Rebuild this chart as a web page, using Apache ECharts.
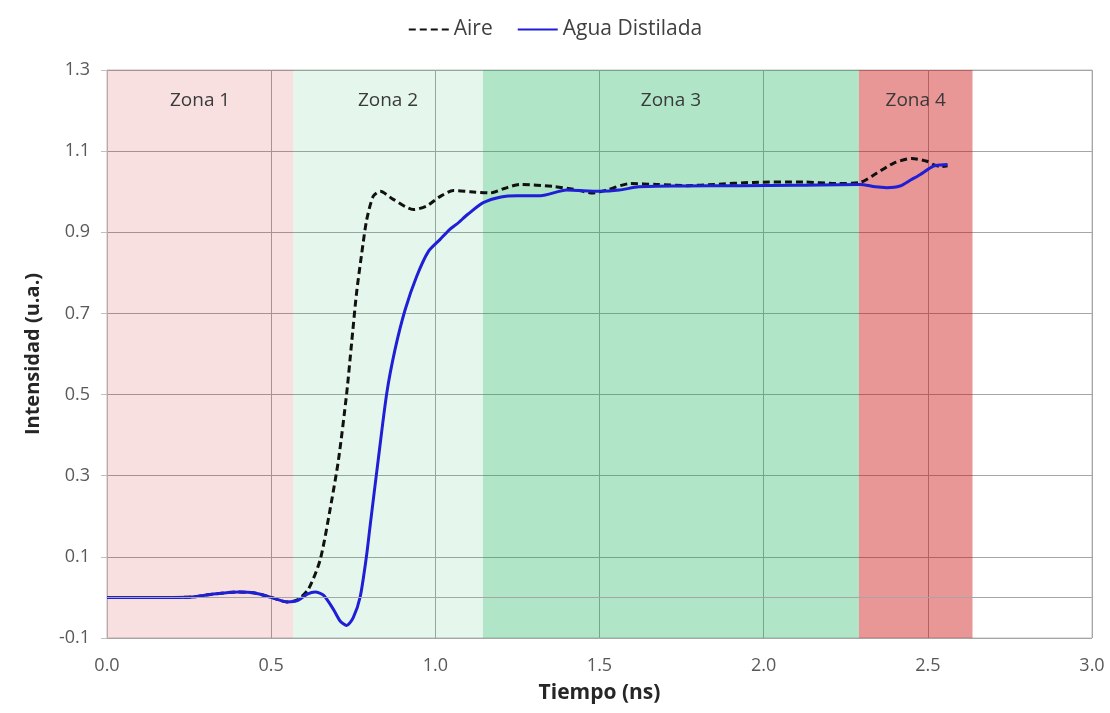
<!DOCTYPE html>
<html>
<head>
<meta charset="utf-8">
<script src="https://cdn.jsdelivr.net/npm/echarts@6/dist/echarts.min.js"></script>
<style>
html,body{margin:0;padding:0;background:#fff;}
#chart{width:1110px;height:713px;}
</style>
</head>
<body>
<div id="chart"></div>
<script>
// ---- data ----
const timeAire = [0.00,0.10,0.20,0.26,0.32,0.40,0.45,0.50,0.548,0.58,0.613,0.649,0.679,0.705,0.730,0.745,0.760,0.776,0.791,0.811,0.832,0.872,0.933,0.974,1.014,1.055,1.106,1.167,1.21,1.258,1.359,1.42,1.481,1.522,1.593,1.674,1.766,1.85,1.969,2.121,2.223,2.294,2.345,2.395,2.451,2.497,2.517,2.54,2.56];
const intAire  = [0.000,0.000,0.000,0.001,0.008,0.0135,0.011,0.000,-0.011,-0.006,0.020,0.092,0.215,0.339,0.503,0.627,0.750,0.849,0.931,0.989,1.001,0.981,0.956,0.965,0.988,1.003,1.000,0.997,1.008,1.018,1.013,1.006,0.997,1.004,1.020,1.018,1.015,1.018,1.023,1.024,1.020,1.023,1.046,1.070,1.082,1.075,1.067,1.062,1.064];
const timeAgua = [0.00,0.10,0.20,0.26,0.32,0.40,0.45,0.50,0.548,0.58,0.61,0.634,0.66,0.69,0.71,0.730,0.75,0.771,0.79,0.801,0.826,0.852,0.877,0.908,0.943,0.979,1.014,1.045,1.065,1.10,1.146,1.20,1.25,1.32,1.40,1.50,1.56,1.62,1.75,1.93,2.10,2.294,2.34,2.375,2.415,2.45,2.476,2.517,2.54,2.56];
const intAgua  = [0.000,0.000,0.000,0.001,0.008,0.0135,0.011,0.000,-0.011,-0.008,0.008,0.0135,0.005,-0.030,-0.058,-0.069,-0.050,0.001,0.100,0.174,0.339,0.503,0.610,0.709,0.791,0.853,0.882,0.908,0.920,0.945,0.973,0.987,0.990,0.990,1.004,1.001,1.004,1.012,1.014,1.015,1.016,1.018,1.012,1.010,1.014,1.030,1.042,1.063,1.066,1.067];
const seriesNames = ['Aire','Agua Distilada'];
const zoneNames = ['Zona 1','Zona 2','Zona 3','Zona 4'];
const zoneStart = [0.0, 0.567, 1.145, 2.29];
const zoneEnd   = [0.567, 1.145, 2.29, 2.636];
const xTicks = {min:0, max:3, interval:0.5};
const yTicks = {min:-0.1, max:1.3, interval:0.2};

const zoneColors = ['rgba(200,0,0,0.12)','rgba(0,176,80,0.10)','rgba(0,171,77,0.31)','rgba(200,0,0,0.41)'];
const FONT = 'Open Sans';
const gridColor = '#a6a6a6';

const pairs = (xs, ys) => xs.map((x,i)=>[x, ys[i]]);

const chart = echarts.init(document.getElementById('chart'), null, {renderer:'canvas'});
chart.setOption({
  animation:false,
  backgroundColor:'#ffffff',
  textStyle:{fontFamily:FONT},
  legend:{
    top:14, left:'center',
    itemWidth:40, itemHeight:14, itemGap:24,
    itemStyle:{opacity:0},
    textStyle:{fontFamily:FONT, fontSize:21, color:'#404040', padding:[0,0,0,0]},
    data:seriesNames
  },
  grid:{left:107, right:18, top:70, bottom:75, show:true, borderColor:'#bfbfbf', borderWidth:1},
  xAxis:{
    type:'value', min:xTicks.min, max:xTicks.max, interval:xTicks.interval,
    name:'Tiempo (ns)', nameLocation:'middle', nameGap:45,
    nameTextStyle:{fontFamily:FONT, fontSize:21, fontWeight:'bold', color:'#262626'},
    axisLine:{show:true, lineStyle:{color:'#bfbfbf'}},
    axisTick:{show:false},
    axisLabel:{fontFamily:FONT, fontSize:18, color:'#595959', margin:19, formatter:v=>v.toFixed(1)},
    splitLine:{show:true, lineStyle:{color:gridColor, width:1}}
  },
  yAxis:{
    type:'value', min:yTicks.min, max:yTicks.max, interval:yTicks.interval,
    name:'Intensidad (u.a.)', nameLocation:'middle', nameGap:64, nameRotate:90,
    nameTextStyle:{fontFamily:FONT, fontSize:20, fontWeight:'bold', color:'#262626'},
    axisLine:{show:true, lineStyle:{color:'#bfbfbf'}},
    axisTick:{show:true, length:6, lineStyle:{color:'#bfbfbf'}},
    axisLabel:{fontFamily:FONT, fontSize:18, color:'#595959', margin:17, formatter:v=>v.toFixed(1)},
    splitLine:{show:true, lineStyle:{color:gridColor, width:1}}
  },
  series:[
    {
      name:seriesNames[0], type:'line', data:pairs(timeAire,intAire),
      showSymbol:false, symbol:'none', smooth:0.25, z:3,
      lineStyle:{color:'#111111', width:3, type:[7,4]},
      itemStyle:{color:'#111111'},
      markLine:{silent:true, symbol:'none', label:{show:false},
        lineStyle:{color:gridColor, width:1, type:'solid'}, data:[{yAxis:0}]}
    },
    {
      name:seriesNames[1], type:'line', data:pairs(timeAgua,intAgua),
      showSymbol:false, symbol:'none', smooth:0.25, z:4,
      lineStyle:{color:'#1f1fd6', width:3},
      itemStyle:{color:'#1f1fd6'}
    },
    {
      type:'line', data:[], z:10, silent:true,
      markArea:{
        silent:true,
        label:{show:true, position:'insideTop', distance:21, fontFamily:FONT, fontSize:19, color:'#3a3a3a'},
        data: zoneNames.map((n,i)=>[
          {name:n, xAxis:zoneStart[i], yAxis:yTicks.max, itemStyle:{color:zoneColors[i]}},
          {xAxis:zoneEnd[i], yAxis:yTicks.min}
        ])
      }
    }
  ]
});
</script>
</body>
</html>
